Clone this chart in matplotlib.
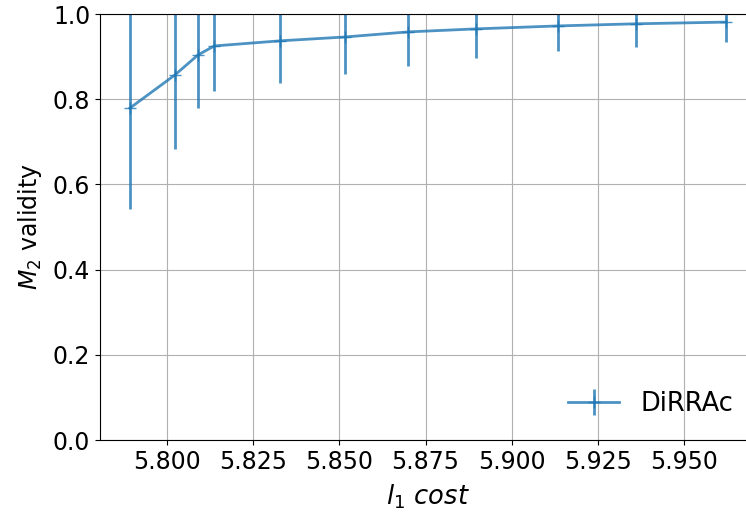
import numpy as np
import matplotlib
matplotlib.use("Agg")
import matplotlib.pyplot as plt

# l1 cost vs M2 validity for DiRRAc (mean +/- std)
cost = [5.7892, 5.8023, 5.8090, 5.8137, 5.8328, 5.8515, 5.8700, 5.8895, 5.9134, 5.9360, 5.9622]
validity = [0.779, 0.857, 0.904, 0.925, 0.937, 0.946, 0.958, 0.965, 0.972, 0.977, 0.981]
validity_std = [0.237, 0.174, 0.125, 0.106, 0.099, 0.088, 0.080, 0.068, 0.059, 0.054, 0.047]
xticks = [5.800, 5.825, 5.850, 5.875, 5.900, 5.925, 5.950]

plt.rcParams['font.size'] = 17

fig = plt.figure(figsize=(7.46, 5.12), dpi=100)
ax = fig.add_axes([100/746, 1 - 440/512, (756 - 100)/746, (440 - 14)/512])

ax.errorbar(cost, validity, yerr=validity_std, marker='+', markersize=9,
            linewidth=2, elinewidth=2, color='tab:blue', alpha=0.8, label='DiRRAc')

ax.set_ylim(0, 1.0)
ax.set_xticks(xticks)
ax.set_xticklabels(['%.3f' % t for t in xticks])
ax.set_xlabel(r'$l_1\ cost$', fontsize=18.5, labelpad=6)
ax.set_ylabel(r'$M_2$ validity', fontsize=17, labelpad=6)
ax.grid(True)
ax.legend(loc='lower right', frameon=False, fontsize=18.5)

fig.savefig('out.png', dpi=100)
